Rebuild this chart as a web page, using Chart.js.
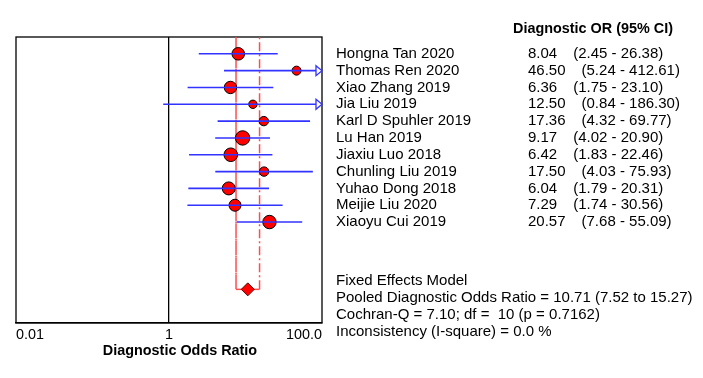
<!doctype html>
<html lang="en">
  <head>
    <meta charset="UTF-8" />
    <script src="https://cdn.jsdelivr.net/npm/chart.js@4.4.1/dist/chart.umd.min.js"></script>
    <style>
      body { margin: 0; background: #fff; }
      canvas { display: block; }
    </style>
  </head>
  <body>
    <canvas id="forest" width="703" height="378"></canvas>

    <script>
      // studies, odds ratios and 95% CI
      const studies = ['Hongna Tan 2020', 'Thomas Ren 2020', 'Xiao Zhang 2019', 'Jia Liu 2019',
        'Karl D Spuhler 2019', 'Lu Han 2019', 'Jiaxiu Luo 2018', 'Chunling Liu 2019',
        'Yuhao Dong 2018', 'Meijie Liu 2020', 'Xiaoyu Cui 2019'];
      const ors = [8.04, 46.50, 6.36, 12.50, 17.36, 9.17, 6.42, 17.50, 6.04, 7.29, 20.57];
      const ciLow = [2.45, 5.24, 1.75, 0.84, 4.32, 4.02, 1.83, 4.03, 1.79, 1.74, 7.68];
      const ciHigh = [26.38, 412.61, 23.10, 186.30, 69.77, 20.90, 22.46, 75.93, 20.31, 30.56, 55.09];

      const pooled = 10.71;
      const pooledLow = 7.52;
      const pooledHigh = 15.27;

      const summaryLines = [
        'Fixed Effects Model',
        'Pooled Diagnostic Odds Ratio = 10.71 (7.52 to 15.27)',
        'Cochran-Q = 7.10; df =  10 (p = 0.7162)',
        'Inconsistency (I-square) = 0.0 %'
      ];

      const xTicks = [0.01, 1, 100];
      const xTickLabels = ['0.01', '1', '100.0'];

      // marker size (study weight), style only
      const markerRadius = [6.3, 4.5, 6.2, 4.2, 4.7, 7.2, 6.8, 4.7, 6.5, 6, 6.7];

      const xMin = 0.01, xMax = 100;
      const pooledRow = studies.length + 3;
      const FONT = "'Liberation Sans', Arial, sans-serif";
      const blue = '#3333ff';

      // one line per study for the confidence interval
      const ciSets = studies.map((s, i) => ({
        type: 'line',
        data: [{ x: Math.max(ciLow[i], xMin), y: i }, { x: Math.min(ciHigh[i], xMax), y: i }],
        borderColor: blue,
        borderWidth: 1.6,
        pointRadius: 0,
        order: 0
      }));

      const forestText = {
        id: 'forestText',
        beforeDatasetsDraw(chart) {
          const { ctx, chartArea: a } = chart;
          ctx.save();
          ctx.strokeStyle = '#000';
          ctx.lineWidth = 1.3;
          ctx.strokeRect(a.left, a.top, a.right - a.left, a.bottom - a.top);
          ctx.restore();
        },
        afterDatasetsDraw(chart) {
          const { ctx } = chart;
          const x = chart.scales.x, y = chart.scales.y;
          ctx.save();

          // open arrow heads where the CI runs past the axis
          ctx.strokeStyle = blue;
          ctx.fillStyle = '#fff';
          ctx.lineWidth = 1.3;
          ciHigh.forEach((hi, i) => {
            if (hi <= xMax) return;
            const tip = x.getPixelForValue(xMax);
            const py = y.getPixelForValue(i);
            ctx.beginPath();
            ctx.moveTo(tip - 6, py - 5);
            ctx.lineTo(tip, py);
            ctx.lineTo(tip - 6, py + 5);
            ctx.closePath();
            ctx.fill();
            ctx.stroke();
          });

          ctx.fillStyle = '#000';
          ctx.textBaseline = 'middle';
          ctx.font = 'bold 14.4px ' + FONT;
          ctx.fillText('Diagnostic OR (95% CI)', 513, 29);
          ctx.textAlign = 'center';
          ctx.fillText('Diagnostic Odds Ratio', 180, 351);
          ctx.textAlign = 'left';

          ctx.font = '15px ' + FONT;
          studies.forEach((s, i) => {
            const py = y.getPixelForValue(i);
            ctx.fillText(s, 336, py);
            const v = ors[i].toFixed(2);
            ctx.fillText(v, 528, py);
            const ci = '(' + ciLow[i].toFixed(2) + ' - ' + ciHigh[i].toFixed(2) + ')';
            ctx.fillText(ci, 528 + ctx.measureText(v).width + 16, py);
          });

          summaryLines.forEach((t, k) => {
            ctx.fillText(t, 336, y.getPixelForValue(pooledRow - 0.5 + k));
          });
          ctx.restore();
        }
      };

      new Chart(document.getElementById('forest'), {
        type: 'scatter',
        data: {
          datasets: [
            ...ciSets,
            {
              label: 'Diagnostic OR',
              data: ors.map((v, i) => ({ x: v, y: i })),
              pointRadius: markerRadius,
              backgroundColor: '#ff0000',
              borderColor: '#000',
              borderWidth: 1,
              order: 1
            },
            {
              label: 'Pooled',
              data: [{ x: pooled, y: pooledRow }],
              pointStyle: 'rectRot',
              pointRadius: 6.5,
              backgroundColor: '#ff0000',
              borderColor: '#600',
              borderWidth: 1,
              order: 1
            },
            {
              type: 'line',
              label: 'Pooled CI',
              data: [
                { x: pooledLow, y: -1 }, { x: pooledLow, y: pooledRow },
                { x: pooledHigh, y: pooledRow }, { x: pooledHigh, y: -1 }
              ],
              borderColor: '#ff4d4d',
              borderWidth: 1.5,
              pointRadius: 0,
              segment: { borderDash: c => c.p0DataIndex === 1 ? [] : [9, 3, 2, 3] },
              order: 2
            }
          ]
        },
        options: {
          responsive: false,
          animation: false,
          layout: { padding: { left: 16, top: 37, right: 381, bottom: 0 } },
          plugins: { legend: { display: false }, tooltip: { enabled: false } },
          scales: {
            x: {
              type: 'logarithmic',
              min: xMin,
              max: xMax,
              afterBuildTicks: s => { s.ticks = xTicks.map(v => ({ value: v })); },
              afterFit: s => { s.height = 55; },
              ticks: {
                callback: (v, i) => xTickLabels[i],
                align: 'inner',
                maxRotation: 0,
                autoSkip: false,
                padding: 3,
                color: '#000',
                font: { family: FONT, size: 14.4 }
              },
              grid: {
                drawTicks: false,
                lineWidth: 1.3,
                color: c => (c.tick && c.tick.value === 1) ? '#000' : 'rgba(0,0,0,0)'
              },
              border: { display: true, color: '#000', width: 1.3 }
            },
            y: {
              display: false,
              min: -1,
              max: 16,
              reverse: true
            }
          }
        },
        plugins: [forestText]
      });
    </script>
  </body>
</html>
